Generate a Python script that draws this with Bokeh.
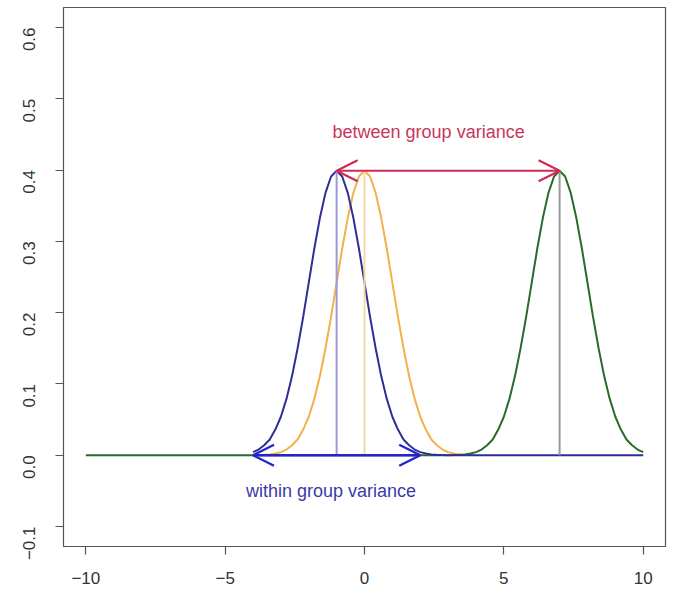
import numpy as np
from bokeh.plotting import figure
from bokeh.models import Arrow, OpenHead, FixedTicker, Range1d
from bokeh.core.properties import value
from bokeh.embed import file_html
from bokeh.resources import INLINE

# ---- data ----
group_names = ["blue", "orange", "green"]
group_means = [-1.0, 0.0, 7.0]
# density profile of each group curve, at distances 0, 0.2, ..., 4.0 from the mean
profile_offsets = [0.0, 0.2, 0.4, 0.6, 0.8, 1.0, 1.2, 1.4, 1.6, 1.8, 2.0,
                   2.2, 2.4, 2.6, 2.8, 3.0, 3.2, 3.4, 3.6, 3.8, 4.0]
profile_density = [0.399, 0.391, 0.368, 0.333, 0.290, 0.242, 0.194, 0.150, 0.111, 0.079, 0.054,
                   0.036, 0.022, 0.014, 0.008, 0.0044, 0.0024, 0.0012, 0.0006, 0.0003, 0.0001]
# x extent over which each curve is drawn
curve_from = [-4.0, -4.0, -10.0]
curve_to = [10.0, 4.0, 10.0]
curve_colors = ["#2e2e96", "#f2b14a", "#2a6a2a"]
vline_colors = ["#9a9ad8", "#f3d9a6", "#9a9a9a"]
draw_order = [1, 2, 0]

between_arrow = dict(x0=-1.0, x1=7.0, y=0.399)
within_arrow = dict(x0=-4.0, x1=2.0, y=0.0)
between_label = dict(x=2.3, y=0.453, text="between group variance")
within_label = dict(x=-1.2, y=-0.05, text="within group variance")

x_ticks = [-10, -5, 0, 5, 10]
x_tick_labels = ["\u221210", "\u22125", "0", "5", "10"]
y_ticks = [-0.1, 0.0, 0.1, 0.2, 0.3, 0.4, 0.5, 0.6]
y_tick_labels = ["\u22120.1", "0.0", "0.1", "0.2", "0.3", "0.4", "0.5", "0.6"]
x_limits = (-10.8, 10.8)
y_limits = (-0.128, 0.628)

FONT = "Liberation Sans"

p = figure(width=667, height=586, output_backend="svg", toolbar_location=None,
           min_border_left=63, min_border_right=2, min_border_top=7, min_border_bottom=38,
           x_range=Range1d(*x_limits), y_range=Range1d(*y_limits))
p.grid.visible = False
p.background_fill_color = "white"
p.border_fill_color = "white"
p.outline_line_color = "#555555"
p.outline_line_width = 1.2

off = np.array(profile_offsets)
dens = np.array(profile_density)
full_off = np.concatenate([-off[::-1], off[1:]])
full_dens = np.concatenate([dens[::-1], dens[1:]])

for i in draw_order:
    m = group_means[i]
    xs = m + full_off
    ys = full_dens.copy()
    keep = (xs >= curve_from[i]) & (xs <= curve_to[i])
    xs = xs[keep]
    ys = ys[keep]
    if curve_from[i] < xs[0]:
        xs = np.concatenate([[curve_from[i]], xs]); ys = np.concatenate([[0.0], ys])
    if curve_to[i] > xs[-1]:
        xs = np.concatenate([xs, [curve_to[i]]]); ys = np.concatenate([ys, [0.0]])
    p.line(xs, ys, line_color=curve_colors[i], line_width=2)

# vertical lines at the group means
p.segment(x0=group_means, y0=[0.0] * 3, x1=group_means, y1=[profile_density[0]] * 3,
          line_color=vline_colors, line_width=2)

# arrows
p.add_layout(Arrow(x_start=between_arrow["x0"], y_start=between_arrow["y"],
                   x_end=between_arrow["x1"], y_end=between_arrow["y"],
                   line_color="#cf2a55", line_width=2.2,
                   start=OpenHead(size=21, line_color="#cf2a55", line_width=2.2),
                   end=OpenHead(size=21, line_color="#cf2a55", line_width=2.2)))
p.add_layout(Arrow(x_start=within_arrow["x0"], y_start=within_arrow["y"],
                   x_end=within_arrow["x1"], y_end=within_arrow["y"],
                   line_color="#2424c8", line_width=2.4,
                   start=OpenHead(size=21, line_color="#2424c8", line_width=2.4),
                   end=OpenHead(size=21, line_color="#2424c8", line_width=2.4)))

p.text(x=[between_label["x"]], y=[between_label["y"]], text=[between_label["text"]],
       text_color="#c8365a", text_font=value(FONT), text_font_size="18px",
       text_align="center", text_baseline="middle")
p.text(x=[within_label["x"]], y=[within_label["y"]], text=[within_label["text"]],
       text_color="#3a3aa6", text_font=value(FONT), text_font_size="18px",
       text_align="center", text_baseline="middle")

for ax in (p.xaxis[0], p.yaxis[0]):
    ax.axis_line_color = None
    ax.major_tick_line_color = "#555555"
    ax.major_tick_line_width = 1.2
    ax.major_tick_out = 8
    ax.major_tick_in = 0
    ax.minor_tick_line_color = None
    ax.major_label_text_font = FONT
    ax.major_label_text_font_size = "17px"
    ax.major_label_text_color = "#333333"

p.xaxis[0].ticker = FixedTicker(ticks=x_ticks)
p.xaxis[0].major_label_overrides = {t: l for t, l in zip(x_ticks, x_tick_labels)}
p.xaxis[0].major_label_standoff = 17
p.yaxis[0].ticker = FixedTicker(ticks=y_ticks)
p.yaxis[0].major_label_overrides = {t: l for t, l in zip(y_ticks, y_tick_labels)}
p.yaxis[0].major_label_orientation = np.pi / 2
p.yaxis[0].major_label_standoff = 26

open("out.html", "w").write(file_html(p, INLINE))
